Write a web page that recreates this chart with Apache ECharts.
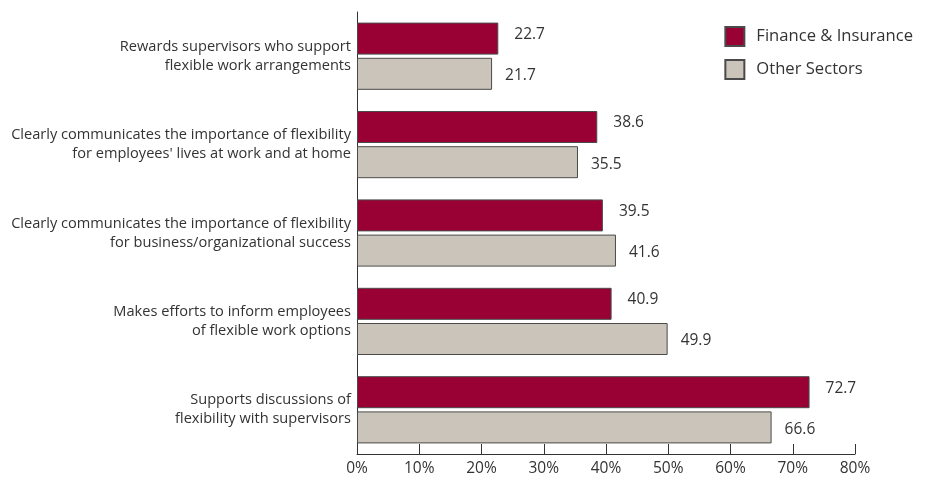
<!DOCTYPE html>
<html>
<head>
<meta charset="utf-8">
<script src="https://cdn.jsdelivr.net/npm/echarts@6/dist/echarts.min.js"></script>
<style>
  html, body { margin: 0; padding: 0; background: #fff; }
  #chart { width: 928px; height: 479px; }
</style>
</head>
<body>
<div id="chart"></div>
<script>
// Workplace flexibility practices, share of employers (%)
const categories = [
  "Rewards supervisors who support\nflexible work arrangements",
  "Clearly communicates the importance of flexibility\nfor employees' lives at work and at home",
  "Clearly communicates the importance of flexibility\nfor business/organizational success",
  "Makes efforts to inform employees\nof flexible work options",
  "Supports discussions of\nflexibility with supervisors"
];
const financeInsurance = [22.7, 38.6, 39.5, 40.9, 72.7];
const otherSectors = [21.7, 35.5, 41.6, 49.9, 66.6];
const seriesNames = ["Finance & Insurance", "Other Sectors"];

const FONT = "'Open Sans', 'Noto Sans', sans-serif";
const TEXT = "#333";

const chart = echarts.init(document.getElementById('chart'));
chart.setOption({
  animation: false,
  textStyle: { fontFamily: FONT },
  grid: { left: 357, right: 73, top: 12, bottom: 25, containLabel: false },
  legend: {
    right: 10,
    top: 21,
    orient: 'vertical',
    itemWidth: 19,
    itemHeight: 19,
    itemGap: 12,
    icon: 'rect',
    textStyle: { fontFamily: FONT, fontSize: 16.6, color: TEXT, padding: [0, 0, 0, 7] },
    data: seriesNames
  },
  xAxis: {
    type: 'value',
    min: 0,
    max: 80,
    interval: 10,
    axisLine: { show: true, lineStyle: { color: '#333', width: 1 } },
    axisTick: { show: true, inside: true, length: 10, lineStyle: { color: '#333' } },
    splitLine: { show: false },
    axisLabel: { formatter: '{value}%', color: TEXT, fontSize: 15.5, fontFamily: FONT, margin: 7 }
  },
  yAxis: {
    type: 'category',
    inverse: true,
    data: categories,
    axisLine: { show: true, lineStyle: { color: '#333', width: 1 } },
    axisTick: { show: false },
    axisLabel: { color: TEXT, fontSize: 14.6, fontFamily: FONT, lineHeight: 19, align: 'right', margin: 6 }
  },
  series: [
    {
      name: seriesNames[0],
      type: 'bar',
      data: financeInsurance,
      barWidth: 32,
      barGap: '10%',
      itemStyle: { color: '#990033', borderColor: '#4a4a4a', borderWidth: 1 },
      label: { show: true, position: 'right', distance: 16, offset: [0, -4], color: TEXT, fontSize: 15.5, fontFamily: FONT }
    },
    {
      name: seriesNames[1],
      type: 'bar',
      data: otherSectors,
      barWidth: 32,
      barGap: '10%',
      itemStyle: { color: '#cbc4bb', borderColor: '#4a4a4a', borderWidth: 1 },
      label: { show: true, position: 'right', distance: 13, offset: [0, 2], color: TEXT, fontSize: 15.5, fontFamily: FONT }
    }
  ]
});
</script>
</body>
</html>
